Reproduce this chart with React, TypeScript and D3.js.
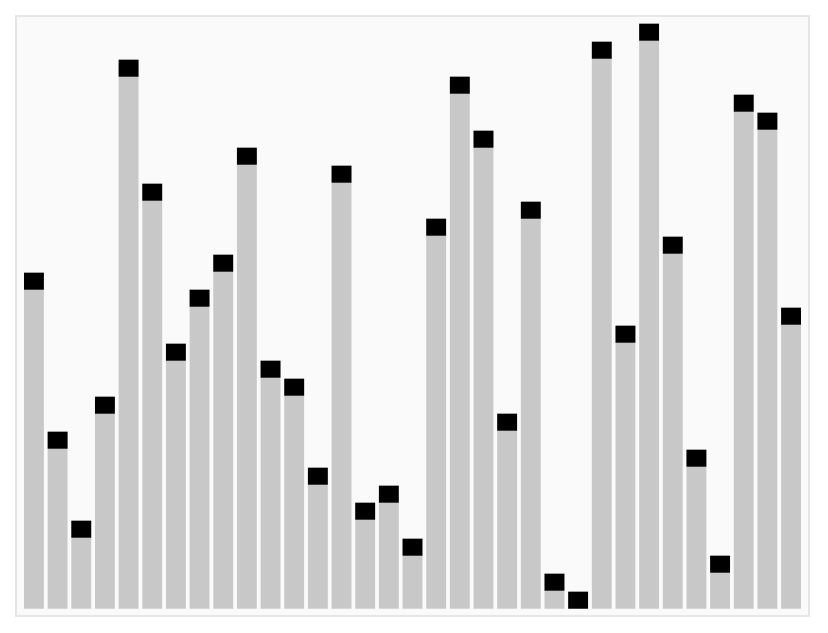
import React from "react";
import * as d3 from "d3";

const indices: number[] = Array.from({ length: 33 }, (_, i) => i);
const values: number[] = [
  336, 177, 88, 212, 549, 425, 265, 319, 354, 461, 248, 230, 141, 443, 106, 123, 70,
  390, 532, 478, 195, 407, 35, 17, 567, 283, 585, 372, 159, 53, 514, 496, 301,
];
const markerSize = 17;

const W = 828;
const H = 633;

export default function App() {
  const x = d3
    .scaleBand<number>()
    .domain(indices)
    .range([24, 801])
    .paddingInner(0.16)
    .paddingOuter(0);
  const y = d3.scaleLinear().domain([0, 600]).range([608.7, 8.7]);

  return (
    <svg
      width={W}
      height={H}
      style={{ position: "absolute", left: 0, top: 0, background: "#ffffff" }}
    >
      <rect x={16} y={16} width={793} height={600} fill="#fafafa" stroke="#e6e6e6" strokeWidth={2} />
      {indices.map((i) => {
        const v = values[i];
        const bx = x(i)!;
        const bw = x.bandwidth();
        return (
          <g key={i}>
            <rect x={bx} y={y(v)} width={bw} height={y(0) - y(v)} fill="#c8c8c8" />
            <rect
              x={bx}
              y={y(v)}
              width={bw}
              height={y(0) - y(markerSize)}
              fill="#000000"
            />
          </g>
        );
      })}
    </svg>
  );
}
